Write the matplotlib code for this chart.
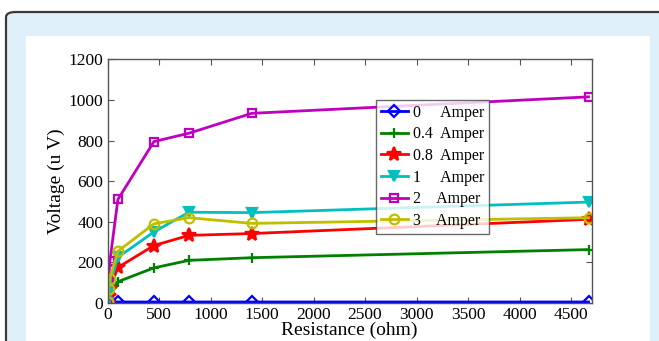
import matplotlib
matplotlib.use("Agg")
import matplotlib.pyplot as plt
from matplotlib.patches import FancyBboxPatch, Rectangle

# resistance values (ohm) and measured voltage (uV) per current
resistance = [0, 10, 22, 100, 450, 790, 1400, 4670]
v_0a = [3, 5, 5, 5, 5, 5, 5, 5]
v_04a = [0, 20, 45, 105, 173, 210, 223, 263]
v_08a = [0, 35, 70, 175, 283, 333, 342, 412]
v_1a = [0, 45, 90, 225, 350, 447, 445, 497]
v_2a = [0, 110, 205, 510, 795, 836, 934, 1015]
v_3a = [3, 70, 120, 255, 390, 420, 392, 420]

labels = ["0     Amper", "0.4  Amper", "0.8  Amper", "1     Amper", "2    Amper", "3    Amper"]
x_ticks = [0, 500, 1000, 1500, 2000, 2500, 3000, 3500, 4000, 4500]
y_ticks = [0, 200, 400, 600, 800, 1000, 1200]

plt.rcParams["font.family"] = ["Liberation Serif", "DejaVu Serif"]

fig = plt.figure(figsize=(6.59, 3.41), dpi=100)
fig.patch.set_facecolor("white")

# page frame: light blue card with dark rounded border, white panel inside
frame = FancyBboxPatch((6 / 659, -0.2), 1.2, (341 - 12) / 341 + 0.2,
                       boxstyle="round,pad=0,rounding_size=0.015",
                       transform=fig.transFigure, facecolor="#dff0fa",
                       edgecolor="#3a3a3a", linewidth=1.6, zorder=-3)
fig.patches.append(frame)
panel = Rectangle((26 / 659, -0.1), (650 - 26) / 659, (341 - 36) / 341 + 0.1,
                  transform=fig.transFigure, facecolor="white",
                  edgecolor="none", zorder=-2)
fig.patches.append(panel)

ax = fig.add_axes([107.6 / 659, 38 / 341, 484 / 659, 243.7 / 341])

series = [
    (v_0a, "#0000ff", "D", "none", 6),
    (v_04a, "#008000", "+", "#008000", 7),
    (v_08a, "#ff0000", "*", "#ff0000", 10),
    (v_1a, "#00bfbf", "v", "#00bfbf", 7),
    (v_2a, "#bf00bf", "s", "none", 6),
    (v_3a, "#bfbf00", "o", "none", 7),
]
for (vals, col, mk, mfc, ms), lab in zip(series, labels):
    ax.plot(resistance, vals, color=col, marker=mk, markerfacecolor=mfc,
            markeredgecolor=col, markeredgewidth=1.6, markersize=ms,
            linewidth=2, label=lab)

ax.set_xlim(0, 4700)
ax.set_ylim(0, 1200)
ax.set_xticks(x_ticks)
ax.set_yticks(y_ticks)
ax.tick_params(direction="in", top=True, right=True, labelsize=12.5,
               length=4, color="#555555", pad=3)
for s in ax.spines.values():
    s.set_color("#555555")
    s.set_linewidth(1)

ax.set_xlabel("Resistance (ohm)", fontsize=14, labelpad=-1)
ax.set_ylabel("Voltage (u V)", fontsize=14, labelpad=3)

leg = ax.legend(loc="upper left", bbox_to_anchor=((376 - 107.6) / 484, (303 - 100) / 243.7),
                fontsize=11.5, frameon=True, fancybox=False, handlelength=1.7,
                handletextpad=0.3, labelspacing=0.35, borderpad=0.3,
                borderaxespad=0)
leg.get_frame().set_edgecolor("#444444")
leg.get_frame().set_linewidth(1)

fig.savefig("out.png", dpi=100, facecolor=fig.get_facecolor())
